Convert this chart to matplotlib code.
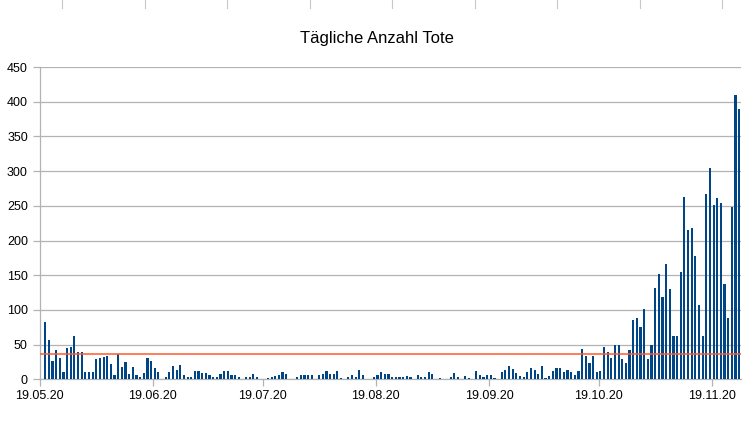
import pandas as pd
import matplotlib
matplotlib.use("Agg")
import matplotlib.pyplot as plt
from matplotlib.lines import Line2D

# daily deaths, one value per day starting 20.05.2020
first_day = "2020-05-20"
deaths = [
    83, 57, 27, 42, 31, 10, 45, 47, 62, 39, 39, 11, 11, 11, 29, 31, 32, 33, 22, 6, 36, 18, 25,
    8, 18, 6, 4, 9, 30, 26, 16, 11, 1, 3, 10, 19, 13, 21, 6, 3, 4, 12, 12, 9, 9, 6, 3,
    4, 7, 12, 12, 6, 6, 3, 1, 4, 4, 7, 4, 1, 1, 2, 4, 5, 6, 10, 7, 0, 0, 4, 6, 6,
    6, 6, -6, 6, 8, 12, 8, 8, 12, 2, 1, 4, 6, 3, 14, 6, 0, 0, 3, 6, 10, 7, 7, 3,
    3, 4, 3, 5, 3, 0, 6, 3, 4, 11, 8, 1, 2, 1, 0, 4, 9, 3, 1, 5, 2, 1, 12, 6, 3,
    6, 6, 2, 0, 10, 13, 19, 15, 9, 5, 3, 11, 17, 13, 8, 19, 2, 5, 12, 16, 16, 11, 14,
    11, 6, 12, 43, 33, 24, 33, 10, 12, 47, 39, 30, 49, 49, 29, 24, 42, 85, 89, 76, 102,
    29, 49, 131, 152, 118, 166, 130, 63, 63, 154, 262, 215, 218, 178, 107, 62, 267, 305,
    251, 261, 254, 138, 89, 249, 410, 390,
]
reference_level = 36.5

axis_start = pd.Timestamp("2020-05-19")
axis_end = pd.Timestamp("2020-11-27")
tick_dates = pd.date_range("2020-05-19", periods=7, freq=pd.DateOffset(months=1))
y_ticks = list(range(0, 451, 50))

plt.rcParams["font.family"] = ["Liberation Sans", "DejaVu Sans"]

fig = plt.figure(figsize=(7.46, 4.26), dpi=100)
ax = fig.add_axes([0.0532, 0.1096, 0.9401, 0.7331])

# bars sit in the middle of their day slot
days = pd.date_range(first_day, periods=len(deaths))
pos = (days - axis_start).days + 0.5
ax.bar(pos, deaths, width=0.6, color="#004586", zorder=3)
ax.axhline(reference_level, color="#ff5a2e", lw=1.1, zorder=4)

ax.set_xlim(0, (axis_end - axis_start).days)
ax.set_ylim(0, 450)
ax.set_yticks(y_ticks)
ax.set_xticks((tick_dates - axis_start).days)
ax.set_xticklabels([d.strftime("%d.%m.%y") for d in tick_dates])

ax.grid(axis="y", color="#b3b3b3", lw=0.9, zorder=0)
for side in ["top", "right"]:
    ax.spines[side].set_visible(False)
for side in ["left", "bottom"]:
    ax.spines[side].set_color("#b3b3b3")
    ax.spines[side].set_linewidth(0.9)
ax.tick_params(axis="both", colors="#b3b3b3", labelcolor="black", labelsize=9,
               length=5, width=0.9, direction="out")
ax.tick_params(axis="x", pad=2.5)

fig.text(0.505, 0.91, "Tägliche Anzahl Tote", ha="center", va="center", fontsize=12)

# spreadsheet column separators at the very top of the screenshot
for i in range(9):
    xf = (62 + i * 82.5) / 746
    fig.add_artist(Line2D([xf, xf], [1 - 8 / 426, 1], transform=fig.transFigure,
                          color="#c8c8c8", lw=0.8))

fig.savefig("out.png", dpi=100)
